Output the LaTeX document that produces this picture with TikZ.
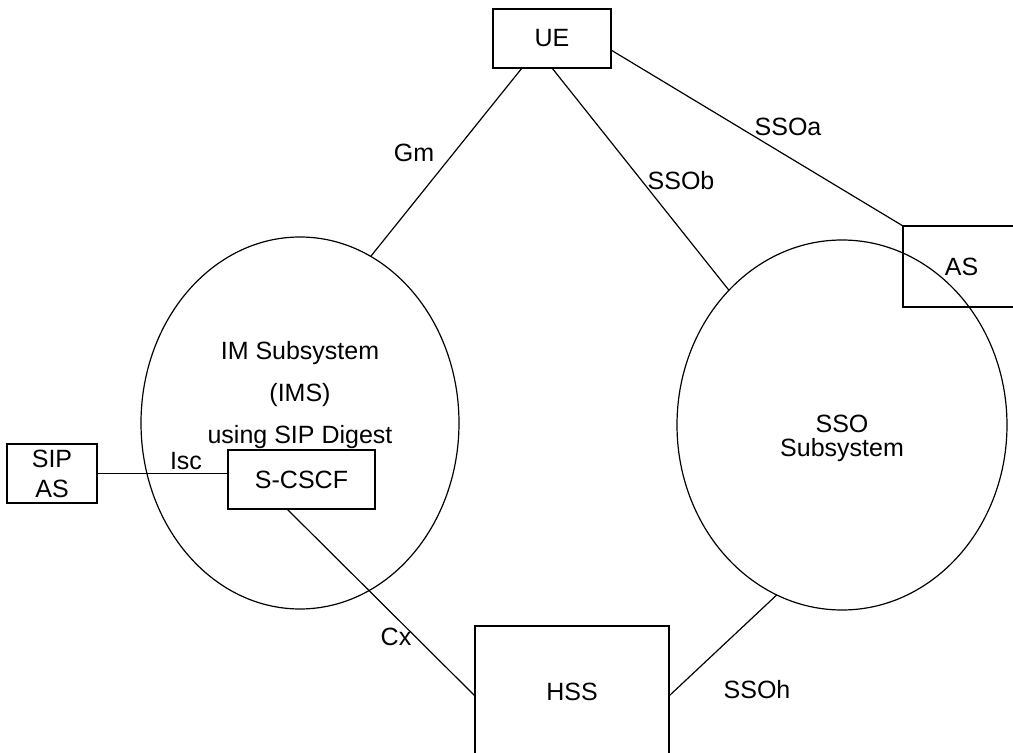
\documentclass[tikz,border=0pt]{standalone}
\usepackage{fontspec}
\setmainfont{Liberation Sans}
\usetikzlibrary{shapes.geometric,positioning}

\tikzset{
  box/.style={draw, line width=0.6pt, rectangle, inner sep=0pt, outer sep=0pt, align=center},
  bubble/.style={draw, line width=0.6pt, ellipse, inner sep=0pt, outer sep=0pt},
  lbl/.style={inner sep=0pt}
}

\begin{document}
\begin{tikzpicture}[x=0.5pt, y=-0.5pt, font=\fontsize{12.5}{15}\selectfont, line width=0.6pt]
        \clip (0,0) rectangle (1013,753);
        % subsystems
        \node[bubble, minimum width=159pt, minimum height=186pt] (ims) at (300,423) {};
        \node[bubble, minimum width=165pt, minimum height=185pt] (sso) at (842,425) {};
        \node[lbl] (imsa) at (300,353) {IM Subsystem};
        \node[lbl] (imsb) at (300,395) {(IMS)};
        \node[lbl] (imsc) at (300,437) {using SIP Digest};
        \node[lbl] (ssoa) at (842,424) {SSO};
        \node[lbl] (ssob) at (842,450) {Subsystem};
        % boxes
        \node[box, minimum width=59pt, minimum height=29.5pt] (ue) at (552,38.5) {UE};
        \node[box, minimum width=73.5pt, minimum height=29.5pt] (scscf) at (301.5,479.5) {S-CSCF};
        \node[box, minimum width=45pt, minimum height=29.5pt] (sipas) at (52,473.5) {SIP\\AS};
        \node[box, minimum width=97pt, minimum height=66pt] (hss) at (572,692) {HSS};
        \node[box, minimum width=58.5pt, minimum height=40.5pt] (as) at (961.5,266.5) {AS};
        % interfaces
        \draw ([xshift=14.5pt]ue.south west) -- (ims.67.6);
        \draw (ue.south) -- (sso.130);
        \draw ([yshift=-5.75pt]ue.east) -- (as.north west);
        \draw (sipas.east) -- (sipas.east -| scscf.west);
        \draw ([xshift=-7.25pt]scscf.south) -- ([yshift=-2pt]hss.west);
        \draw (sso.249) -- ([yshift=-2pt]hss.east);
        \node[lbl] (gm) at (414,153) {Gm};
        \node[lbl] (ssoal) at (788,127) {SSOa};
        \node[lbl] (ssobl) at (681,181) {SSOb};
        \node[lbl] (isc) at (186,461) {Isc};
        \node[lbl] (cx) at (396,637) {Cx};
        \node[lbl] (ssoh) at (757,690) {SSOh};
      \end{tikzpicture}
\end{document}
